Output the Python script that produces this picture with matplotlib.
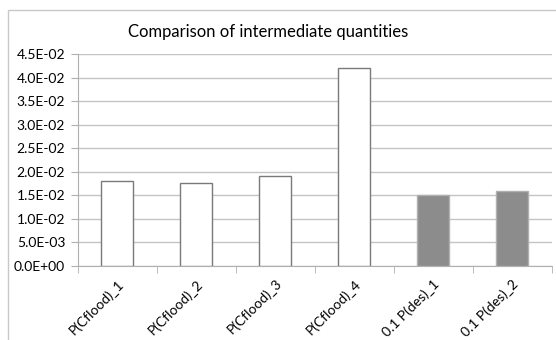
import numpy as np
import matplotlib.pyplot as plt
from matplotlib.ticker import FuncFormatter, FixedLocator
from matplotlib.patches import Rectangle

# quantities to compare
labels = ["P(Cflood)_1", "P(Cflood)_2", "P(Cflood)_3", "P(Cflood)_4",
          "0.1 P(des)_1", "0.1 P(des)_2"]
values = [0.0180, 0.0177, 0.0190, 0.0421, 0.0150, 0.0160]
fills = ["white", "white", "white", "white", "#8c8c8c", "#8c8c8c"]
edges = ["#7a7a7a", "#7a7a7a", "#7a7a7a", "#7a7a7a", "#b0b0b0", "#b0b0b0"]

plt.rcParams['font.family'] = ['Lato', 'DejaVu Sans']

fig = plt.figure(figsize=(5.56, 3.4), dpi=100)
fig.patches.append(Rectangle((8 / 556, -0.1), 1.2, 1 - 10 / 340 + 0.1,
                             transform=fig.transFigure, fill=False,
                             edgecolor="#c8c8c8", linewidth=1))

ax = fig.add_axes([0.1397, 0.2176, 0.8526, 0.6236])
x = np.arange(len(labels))
ax.bar(x, values, width=0.4, color=fills, edgecolor=edges, linewidth=1, zorder=3)

ax.set_xlim(-0.5, len(labels) - 0.5)
ax.set_ylim(0, 0.045)
ax.set_yticks(np.arange(0, 0.0451, 0.005))
ax.yaxis.set_major_formatter(FuncFormatter(lambda v, p: f"{v:.1E}"))
ax.grid(axis="y", color="#c4c4c4", linewidth=1, zorder=0)

ax.set_xticks(x)
ax.set_xticklabels(labels, rotation=45, ha="right", va="top",
                   rotation_mode="anchor", fontsize=10)
ax.tick_params(axis="x", which="major", length=0, pad=8)
ax.xaxis.set_minor_locator(FixedLocator(np.arange(-0.5, len(labels), 1.0)))
ax.tick_params(axis="x", which="minor", length=5, color="#b0b0b0")
ax.tick_params(axis="y", length=5, color="#b0b0b0", labelsize=10, pad=4)

for s in ["top", "right"]:
    ax.spines[s].set_visible(False)
for s in ["left", "bottom"]:
    ax.spines[s].set_color("#b0b0b0")

fig.text(268 / 556, 1 - 32 / 340, "Comparison of intermediate quantities",
         ha="center", va="center", fontsize=12)

fig.savefig("out.png", dpi=100)
